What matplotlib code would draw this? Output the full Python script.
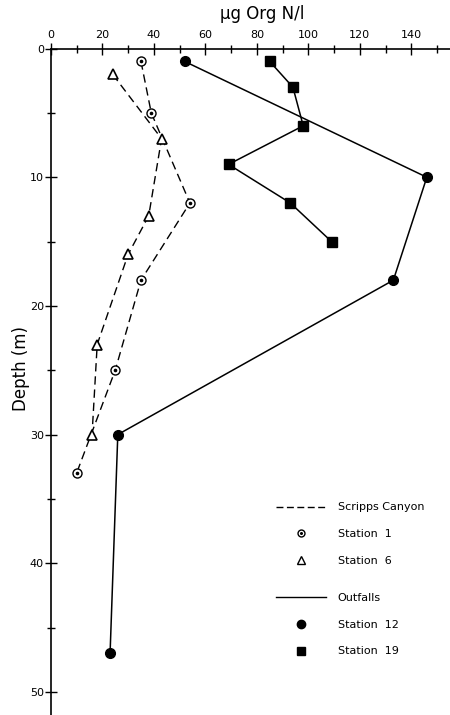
import matplotlib.pyplot as plt
from matplotlib.lines import Line2D

# depth (m) and ug Org N/l
st1_depth = [1, 5, 12, 18, 25, 33]
st1_val = [35, 39, 54, 35, 25, 10]
st6_depth = [2, 7, 13, 16, 23, 30]
st6_val = [24, 43, 38, 30, 18, 16]
st12_depth = [1, 10, 18, 30, 47]
st12_val = [52, 146, 133, 26, 23]
st19_depth = [1, 3, 6, 9, 12, 15]
st19_val = [85, 94, 98, 69, 93, 109]

plt.rcParams['font.family'] = ['DejaVu Sans']

fig = plt.figure(figsize=(4.5, 7.15), dpi=100)
ax = fig.add_axes([0.113, 0.0, 0.887, 0.932])

dash = (0, (6, 3.5))
ax.plot(st1_val, st1_depth, color='black', lw=1, linestyle=dash,
        marker='o', ms=6.5, mfc='white', mec='black', mew=1)
ax.plot(st1_val, st1_depth, linestyle='none', marker='o', ms=1.6, color='black')
ax.plot(st6_val, st6_depth, color='black', lw=1, linestyle=dash,
        marker='^', ms=7, mfc='white', mec='black', mew=1.2)
ax.plot(st12_val, st12_depth, color='black', lw=1.1, marker='o', ms=7)
ax.plot(st19_val, st19_depth, color='black', lw=1.1, marker='s', ms=6.5)

ax.set_xlim(0, 155)
ax.set_ylim(51.8, 0)
ax.xaxis.tick_top()
ax.xaxis.set_label_position('top')
ax.set_xticks(range(0, 141, 20))
ax.set_xticks(range(0, 151, 10), minor=True)
ax.set_yticks(range(0, 51, 10))
ax.set_yticks(range(5, 51, 10), minor=True)
ax.tick_params(axis='both', which='both', direction='inout', labelsize=8,
               width=1, colors='black')
ax.tick_params(axis='both', which='major', length=8)
ax.tick_params(axis='both', which='minor', length=6)
ax.tick_params(axis='x', pad=2)
ax.tick_params(axis='y', pad=1)
for s in ['right', 'bottom']:
    ax.spines[s].set_visible(False)
ax.spines['left'].set_linewidth(1.2)
ax.spines['top'].set_linewidth(1.2)

ax.set_xlabel('µg Org N/l', fontsize=12)
ax.xaxis.set_label_coords(0.53, 1.044)
ax.set_ylabel('Depth (m)', fontsize=12)
ax.yaxis.set_label_coords(-0.052, 0.52)

# legend: two groups
kw = dict(frameon=False, fontsize=8, handlelength=4.5, handletextpad=1.1,
          labelspacing=1.5, numpoints=1, loc='upper left')
h1 = [
    Line2D([], [], color='black', lw=1, linestyle=(0, (5, 2.5))),
    (Line2D([], [], linestyle='none', marker='o', ms=5, mfc='white', mec='black'),
     Line2D([], [], linestyle='none', marker='o', ms=1.2, color='black')),
    Line2D([], [], linestyle='none', marker='^', ms=5.5, mfc='white', mec='black'),
]
l1 = ['Scripps Canyon', 'Station  1', 'Station  6']
h2 = [
    Line2D([], [], color='black', lw=1),
    Line2D([], [], linestyle='none', marker='o', ms=6, color='black'),
    Line2D([], [], linestyle='none', marker='s', ms=6, color='black'),
]
l2 = ['Outfalls', 'Station  12', 'Station  19']
leg1 = ax.legend(h1, l1, bbox_to_anchor=(0.538, 0.334), **kw)
ax.add_artist(leg1)
ax.legend(h2, l2, bbox_to_anchor=(0.538, 0.198), **kw)

fig.savefig('out.png', dpi=100)
